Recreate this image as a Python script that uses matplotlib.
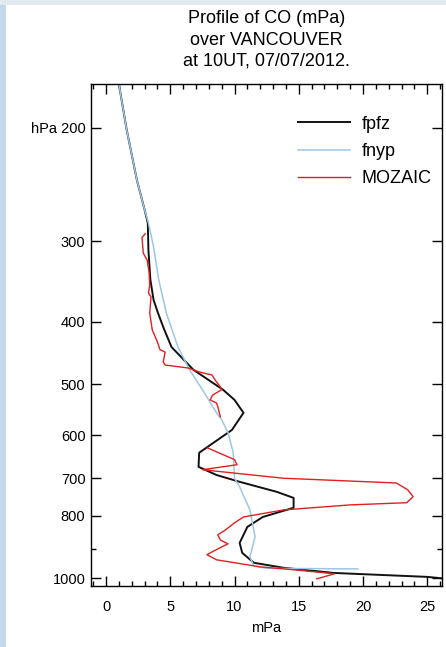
import numpy as np
import matplotlib
matplotlib.use('Agg')
import matplotlib.pyplot as plt
from matplotlib.ticker import FixedLocator, MultipleLocator, NullFormatter
from matplotlib.patches import Rectangle

# Pressure levels (hPa) and CO partial pressure (mPa) for each profile
fpfz_p = [171, 201, 241, 268, 281, 310, 344, 370, 388, 410, 438, 475, 510, 529, 554, 589, 639, 672,
          692, 709, 735, 751, 778, 804, 833, 882, 914, 947, 964, 982, 996, 1005]
fpfz_v = [1.0, 1.6, 2.4, 3.0, 3.25, 3.3, 3.45, 3.7, 4.05, 4.5, 5.1, 6.8, 9.1, 10.0, 10.7, 9.8, 7.25, 7.2,
          8.6, 10.4, 13.3, 14.6, 14.6, 12.2, 11.0, 10.4, 10.6, 11.5, 13.8, 17.7, 25.0, 27.0]

fnyp_p = [171, 201, 241, 268, 281, 306, 344, 388, 438, 475, 510, 554, 568, 595, 639, 700,
          722, 784, 863, 927, 958, 966, 968]
fnyp_v = [1.0, 1.6, 2.4, 3.0, 3.3, 3.7, 4.1, 4.7, 5.6, 6.5, 7.5, 8.6, 9.0, 9.5, 9.9, 10.0,
          10.4, 11.2, 11.6, 11.2, 11.5, 12.5, 19.6]

# MOZAIC aircraft profile (NaN marks the missing segment)
mozaic_p = [292, 296, 313, 321, 335, 351, 361, 366, 388, 412, 430, 442, 446, 462, 467, 472,
            479, 484, 493, 505, 510, 520, 529, 535, 542, 562, 595, 628, 655, 667, 679, 700,
            712, 730, 748, 764, 770, 784, 804, 821, 842, 857, 873, 885, 895, 911, 920, 937,
            961, 971, 985, 1003]
mozaic_v = [3.05, 2.8, 2.9, 3.2, 3.35, 3.4, 3.3, 3.5, 3.4, 3.6, 4.0, 4.2, 4.6, 4.45, 4.6, 6.4,
            7.3, 8.25, 8.5, 8.9, 9.0, 8.3, 8.1, 8.6, 8.7, 8.9, np.nan, 7.9, 10.0, 10.2, 7.5, 13.8,
            22.6, 23.5, 23.9, 23.4, 19.0, 13.8, 10.7, 10.0, 9.3, 8.7, 8.9, 9.5, 9.0, 8.25, 7.85, 8.6,
            12.0, 14.6, 17.8, 16.4]

p_ticks = [200, 300, 400, 500, 600, 700, 800, 1000]
p_labels = ['hPa 200', '300', '400', '500', '600', '700', '800', '1000']
x_ticks = [0, 5, 10, 15, 20, 25]

plt.rcParams['font.family'] = ['Liberation Sans', 'DejaVu Sans']

fig = plt.figure(figsize=(4.46, 6.47), dpi=100)
fig.patch.set_facecolor('white')

# thin bluish frame along the left and top edges
fig.patches.append(Rectangle((0, 0), 6 / 446, 1, transform=fig.transFigure,
                             facecolor='#c4d9ea', edgecolor='none', zorder=0))
fig.patches.append(Rectangle((0, 1 - 5 / 647), 1, 5 / 647, transform=fig.transFigure,
                             facecolor='#e2e9f0', edgecolor='none', zorder=0))

ax = fig.add_axes([91 / 446, 61 / 647, 351 / 446, 502 / 647])

ax.plot(fpfz_v, fpfz_p, color='#111111', linewidth=1.4, label='fpfz')
ax.plot(fnyp_v, fnyp_p, color='#9cc7e6', linewidth=1.1, label='fnyp')
ax.plot(mozaic_v, mozaic_p, color='#e02020', linewidth=1.0, label='MOZAIC')

ax.set_yscale('log')
ax.set_ylim(1029, 171)
ax.set_xlim(-1.17, 26.15)

ax.yaxis.set_major_locator(FixedLocator(p_ticks))
ax.set_yticklabels(p_labels)
ax.yaxis.set_minor_locator(FixedLocator([900]))
ax.yaxis.set_minor_formatter(NullFormatter())

ax.set_xticks(x_ticks)
ax.xaxis.set_minor_locator(MultipleLocator(1))

ax.tick_params(which='both', direction='in', top=True, right=True, labelsize=10.5, width=1.0)
ax.tick_params(which='major', length=7)
ax.tick_params(which='minor', length=3.5)
ax.tick_params(axis='x', which='major', pad=10)
ax.tick_params(axis='y', which='major', pad=4)
for s in ax.spines.values():
    s.set_linewidth(1.0)

ax.set_xlabel('mPa', fontsize=10.5, labelpad=5)
ax.set_title('Profile of CO (mPa)\nover VANCOUVER\nat 10UT, 07/07/2012.',
             fontsize=13, linespacing=1.33, pad=13)

ax.legend(loc='upper left', bbox_to_anchor=(0.59, 0.937), frameon=False, fontsize=13,
          handlelength=2.9, handletextpad=0.6, labelspacing=0.57, borderpad=0, borderaxespad=0)

fig.savefig('out.png', dpi=100, facecolor='white')
